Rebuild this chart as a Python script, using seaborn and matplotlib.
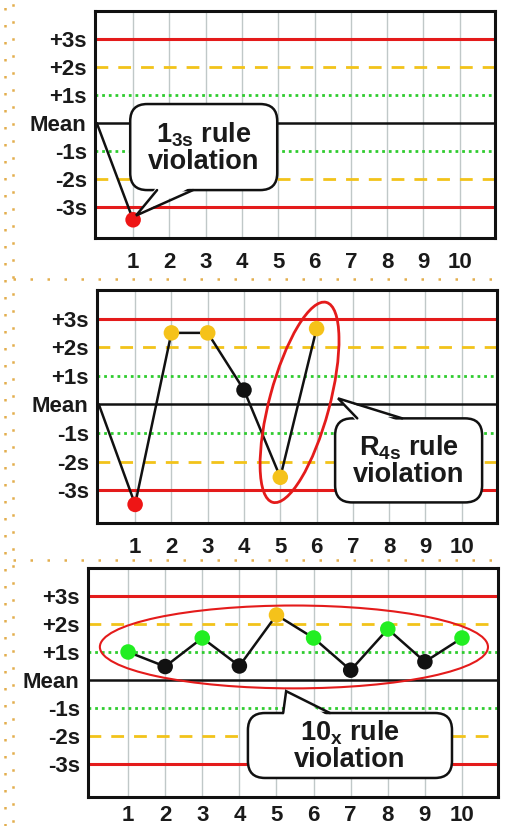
import matplotlib
matplotlib.use('Agg')
import seaborn as sns
import matplotlib.pyplot as plt
from matplotlib.patches import Ellipse, FancyBboxPatch, Polygon
from matplotlib.lines import Line2D
from matplotlib.transforms import ScaledTranslation

# Control limits (in SD units) and their labels.
levels = [-3, -2, -1, 0, 1, 2, 3]
level_labels = ['-3s', '-2s', '-1s', 'Mean', '+1s', '+2s', '+3s']
runs = list(range(1, 11))

# Panel 1: 1-3s rule.
p1_y = [-3.45]
p1_zone = ['out']
# Panel 2: R-4s rule.
p2_y = [-3.5, 2.5, 2.5, 0.5, -2.55, 2.65]
p2_zone = ['out', 'warn', 'warn', 'ok', 'warn', 'warn']
# Panel 3: 10-x rule.
p3_y = [1.0, 0.48, 1.5, 0.5, 2.32, 1.5, 0.35, 1.82, 0.65, 1.5]
p3_zone = ['one', 'ok', 'one', 'ok', 'warn', 'one', 'ok', 'one', 'ok', 'one']

zone_colors = {'ok': '#111111', 'one': '#22ee22', 'warn': '#f5c21a', 'out': '#ee1515'}

W, H = 505, 826
sns.set_style('white')
plt.rcParams['font.family'] = ['Liberation Sans', 'DejaVu Sans']
plt.rcParams['mathtext.fontset'] = 'custom'
plt.rcParams['mathtext.rm'] = 'Liberation Sans'
plt.rcParams['mathtext.bf'] = 'Liberation Sans:bold'

fig = plt.figure(figsize=(W / 100, H / 100), dpi=100)


def ax_rect(left, top, right, bottom):
    return [left / W, 1 - bottom / H, (right - left) / W, (bottom - top) / H]


def setup(ax, xlim, ylim, xpad=10):
    ax.set_xlim(*xlim)
    ax.set_ylim(*ylim)
    ax.set_axisbelow(True)
    ax.set_xticks(runs, [str(r) for r in runs])
    ax.set_yticks(levels, level_labels)
    ax.grid(axis='x', color='#c0c8c8', lw=1.0)
    ax.grid(axis='y', visible=False)
    ax.tick_params(axis='x', length=0, pad=xpad, labelsize=16, labelcolor='#1a1a1a')
    ax.tick_params(axis='y', length=0, pad=6, labelsize=16, labelcolor='#1a1a1a')
    for lab in ax.get_xticklabels() + ax.get_yticklabels():
        lab.set_fontweight('bold')
    for sp in ax.spines.values():
        sp.set_color('#111111')
        sp.set_linewidth(2.2)
    # control lines
    for lv in levels:
        if abs(lv) == 3:
            ax.axhline(lv, color='#e41b1b', lw=2.2, zorder=1)
        elif abs(lv) == 2:
            ax.axhline(lv, color='#f2c31a', lw=2.0, ls=(0, (4.6, 3.6)), zorder=1)
        elif abs(lv) == 1:
            ax.axhline(lv, color='#2fcc2f', lw=2.0, ls=(0, (1, 1.4)), zorder=1)
        else:
            ax.axhline(lv, color='#111111', lw=1.8, zorder=1)


def plot_run(ax, ys, zones, from_mean):
    xs = runs[:len(ys)]
    lx, ly = ([0] + xs, [0] + ys) if from_mean else (xs, ys)
    sns.lineplot(x=lx, y=ly, color='#111111', lw=1.8, ax=ax, zorder=3)
    sns.scatterplot(x=xs, y=ys, hue=zones, palette=zone_colors, s=125,
                    edgecolor='none', legend=False, ax=ax, zorder=4)


def callout(ax, box, tail, tip, label):
    x0, y0, x1, y1 = box
    pos = ax.get_position()
    xpp = (ax.get_xlim()[1] - ax.get_xlim()[0]) / (pos.width * W)
    ypp = (ax.get_ylim()[1] - ax.get_ylim()[0]) / (pos.height * H)
    aspect = ypp / xpp
    ax.add_patch(FancyBboxPatch((x0, y0), x1 - x0, y1 - y0,
                                boxstyle=f'round,pad=0,rounding_size={17 * xpp}',
                                mutation_aspect=aspect, fc='white', ec='#111111',
                                lw=1.8, zorder=6))
    (bx0, by), (bx1, _) = tail
    inward = 4 * ypp * (1 if by == y0 else -1)
    ax.add_patch(Polygon([(bx0, by + inward), tip, (bx1, by + inward)],
                         closed=True, fc='white', ec='none', zorder=7))
    ax.plot([bx0, tip[0], bx1], [by, tip[1], by], color='#111111', lw=1.8,
            zorder=8, solid_joinstyle='miter')
    ax.text((x0 + x1) / 2, (y0 + y1) / 2 - 0.02, label, ha='center', va='center',
            fontsize=19.5, fontweight='bold', color='#1a1a1a', linespacing=1.0, zorder=9)


# Panel 1
ax1 = fig.add_axes(ax_rect(95, 11, 495, 238))
setup(ax1, (-0.05, 10.97), (-4.1, 4.0))
plot_run(ax1, p1_y, p1_zone, True)
callout(ax1, (0.92, -2.39, 4.97, 0.68), [(1.66, -2.39), (2.65, -2.39)], (1.08, -3.3),
        '$\\mathbf{1_{3s}}$ rule\nviolation')

# Panel 2
ax2 = fig.add_axes(ax_rect(97, 290, 497, 523))
setup(ax2, (-0.05, 10.97), (-4.15, 4.0))
plot_run(ax2, p2_y, p2_zone, True)
ax2.add_patch(Ellipse((0, 0), 2.07, 0.6, angle=75, fc='none', ec='#e41b1b', lw=2.0,
                      transform=fig.dpi_scale_trans + ScaledTranslation(5.53, 0.07, ax2.transData),
                      zorder=5))
callout(ax2, (6.51, -3.43, 10.56, -0.49), [(7.12, -0.49), (8.36, -0.49)], (6.59, 0.21),
        '$\\mathbf{R_{4s}}$ rule\nviolation')

# Panel 3
ax3 = fig.add_axes(ax_rect(88, 568, 498, 797))
setup(ax3, (-0.08, 10.97), (-4.18, 4.0), xpad=6)
plot_run(ax3, p3_y, p3_zone, False)
ax3.add_patch(Ellipse((5.47, 1.18), 10.46, 2.96, fc='none', ec='#e41b1b', lw=1.5, zorder=5))
callout(ax3, (4.23, -3.5, 9.73, -1.18), [(5.18, -1.18), (6.44, -1.18)], (5.26, -0.4),
        '$\\mathbf{10_x}$ rule\nviolation')

# Slide background dotted frame
dot = dict(color='#e3ae4e', lw=1.8, ls=(0, (1, 5.8)), transform=fig.transFigure)
fig.add_artist(Line2D([4.5 / W] * 2, [0, 1], **dot))
fig.add_artist(Line2D([13 / W] * 2, [0, 1], **{**dot, 'ls': (5.3, (1, 5.8))}))
fig.add_artist(Line2D([13 / W, 500 / W], [1 - 279 / H] * 2, **dot))
fig.add_artist(Line2D([13 / W, 500 / W], [1 - 560 / H] * 2, **dot))

fig.savefig('out.png', dpi=100)
